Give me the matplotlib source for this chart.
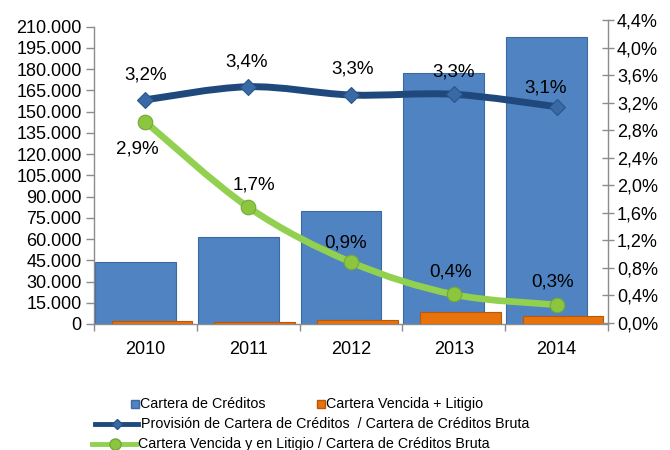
import numpy as np
import matplotlib
matplotlib.use("Agg")
import matplotlib.pyplot as plt
from matplotlib.path import Path
from matplotlib.patches import PathPatch
from matplotlib.lines import Line2D
from matplotlib.ticker import FixedLocator, FuncFormatter

plt.rcParams['font.family'] = ['Liberation Sans', 'DejaVu Sans']

# ---------------- data ----------------
years = ["2010", "2011", "2012", "2013", "2014"]
cartera_creditos = [44000, 61500, 80000, 177000, 203000]
cartera_vencida = [1800, 1500, 3000, 8400, 6000]
provision_ratio = [3.24, 3.43, 3.31, 3.32, 3.14]        # %
vencida_ratio = [2.92, 1.68, 0.88, 0.41, 0.26]          # %
left_ticks = list(range(0, 210001, 15000))
right_ticks = [0.0, 0.4, 0.8, 1.2, 1.6, 2.0, 2.4, 2.8, 3.2, 3.6, 4.0, 4.4]
legend_labels = ["Cartera de Créditos", "Cartera Vencida + Litigio",
                 "Provisión de Cartera de Créditos  / Cartera de Créditos Bruta",
                 "Cartera Vencida y en Litigio / Cartera de Créditos Bruta"]

# ---------------- style ----------------
W, H = 670, 450
C_BLUE = '#5083C2'
C_BLUE_E = '#3B6AA3'
C_ORANGE = '#E8720C'
C_ORANGE_E = '#B85808'
C_PROV = '#1F497D'
C_PROV_M = '#3A6AA6'
C_GREEN = '#92D050'
C_GREEN_M = '#8CC63F'
C_AX = '#8C8C8C'
FS_TICK = 13
FS_LBL = 13.5
FS_LEG = 10.3


def px(x, y):
    return x / W, 1 - y / H


fig = plt.figure(figsize=(W / 100, H / 100), dpi=100)
x0, x1, ytop, ybot = 94, 608, 20, 324
ax = fig.add_axes([x0 / W, 1 - ybot / H, (x1 - x0) / W, (ybot - ytop) / H])
ax2 = ax.twinx()

x = np.arange(len(years))
bw = 0.785
ax.bar(x - 0.097, cartera_creditos, width=bw, color=C_BLUE, edgecolor=C_BLUE_E,
       linewidth=0.8, zorder=2)
ax.bar(x + 0.063, cartera_vencida, width=bw, color=C_ORANGE, edgecolor=C_ORANGE_E,
       linewidth=0.8, zorder=3)

ax.set_xlim(-0.5, len(years) - 0.5)
ax.set_ylim(0, 214730)
ax2.set_ylim(-0.0189, 4.4)

# x axis
ax.set_xticks(x)
ax.set_xticklabels(years, fontsize=FS_TICK)
ax.xaxis.set_minor_locator(FixedLocator(np.arange(-0.5, len(years), 1.0)))
ax.tick_params(axis='x', which='major', length=0, pad=12)
ax.tick_params(axis='x', which='minor', length=5, color=C_AX, width=1, direction='out')

# left y axis
ax.set_yticks(left_ticks)
ax.yaxis.set_major_formatter(FuncFormatter(lambda v, p: f"{int(v):,}".replace(",", ".")))
ax.tick_params(axis='y', which='major', length=6, color=C_AX, width=1,
               direction='out', labelsize=FS_TICK, pad=3)

# right y axis
ax2.set_yticks(right_ticks)
ax2.yaxis.set_major_formatter(FuncFormatter(lambda v, p: f"{v:.1f}%".replace(".", ",")))
ax2.tick_params(axis='y', which='major', length=9, color=C_AX, width=1,
                direction='inout', labelsize=FS_TICK, pad=2)

for a in (ax, ax2):
    a.spines['top'].set_visible(False)
    for s in ('left', 'right', 'bottom'):
        a.spines[s].set_color(C_AX)
        a.spines[s].set_linewidth(1)
ax.spines['right'].set_visible(False)
ax2.spines['left'].set_visible(False)
ax2.spines['bottom'].set_visible(False)
ax.spines['left'].set_bounds(0, 210000)
ax2.spines['right'].set_bounds(0, 4.4)


def smooth_path(xs, ys):
    pts = np.column_stack([xs, ys]).astype(float)
    P = np.vstack([pts[0], pts, pts[-1]])
    verts = [pts[0]]
    codes = [Path.MOVETO]
    for i in range(1, len(P) - 2):
        p0, p1, p2, p3 = P[i - 1], P[i], P[i + 1], P[i + 2]
        c1 = p1 + (p2 - p0) / 6.0
        c2 = p2 - (p3 - p1) / 6.0
        verts += [c1, c2, p2]
        codes += [Path.CURVE4] * 3
    return Path(verts, codes)


ax2.add_patch(PathPatch(smooth_path(x, provision_ratio), fill=False,
                        edgecolor=C_PROV, linewidth=5, capstyle='butt', zorder=4))
ax2.plot(x, provision_ratio, linestyle='none', marker='D', markersize=8,
         markerfacecolor=C_PROV_M, markeredgecolor='#2A5588', markeredgewidth=0.8, zorder=5)
ax2.add_patch(PathPatch(smooth_path(x, vencida_ratio), fill=False,
                        edgecolor=C_GREEN, linewidth=4.8, capstyle='butt', zorder=4))
ax2.plot(x, vencida_ratio, linestyle='none', marker='o', markersize=10.5,
         markerfacecolor=C_GREEN_M, markeredgecolor='#74A83A', markeredgewidth=0.8, zorder=5)

prov_off = [(0, 25), (-2, 24.5), (2, 26), (0, 22.5), (-11, 18.5)]
venc_off = [(-8, -27), (6, 22), (-5, 19), (-3, 22), (-4, 23)]
for i, v in enumerate(provision_ratio):
    ax2.annotate(f"{v:.1f}%".replace(".", ","), (x[i], v), xytext=prov_off[i],
                 textcoords='offset pixels', ha='center', va='center',
                 fontsize=FS_LBL, zorder=6)
for i, v in enumerate(vencida_ratio):
    ax2.annotate(f"{v:.1f}%".replace(".", ","), (x[i], v), xytext=venc_off[i],
                 textcoords='offset pixels', ha='center', va='center',
                 fontsize=FS_LBL, zorder=6)

# ---------------- legend ----------------
def leg_marker(xp, yp, **kw):
    fx, fy = px(xp, yp)
    fig.add_artist(Line2D([fx], [fy], transform=fig.transFigure, linestyle='none', **kw))


def leg_line(xa, xb, yp, **kw):
    fa, fy = px(xa, yp)
    fb, _ = px(xb, yp)
    fig.add_artist(Line2D([fa, fb], [fy, fy], transform=fig.transFigure, **kw))


leg_marker(135, 404, marker='s', markersize=5.5, markerfacecolor=C_BLUE, markeredgecolor=C_BLUE_E)
fig.text(*px(140, 404), legend_labels[0], fontsize=FS_LEG, va='center', ha='left')
leg_marker(321, 404, marker='s', markersize=5.5, markerfacecolor=C_ORANGE, markeredgecolor=C_ORANGE_E)
fig.text(*px(326, 404), legend_labels[1], fontsize=FS_LEG, va='center', ha='left')

leg_line(95, 138, 424, color=C_PROV, linewidth=3.5)
leg_marker(117, 424, marker='D', markersize=5.5, markerfacecolor=C_PROV_M, markeredgecolor='#2A5588')
fig.text(*px(141, 424), legend_labels[2], fontsize=FS_LEG, va='center', ha='left')

leg_line(92, 136, 444, color=C_GREEN, linewidth=3.5)
leg_marker(115, 444, marker='o', markersize=8, markerfacecolor=C_GREEN_M, markeredgecolor='#74A83A')
fig.text(*px(138, 444), legend_labels[3], fontsize=FS_LEG, va='center', ha='left')

fig.savefig("out.png", dpi=100)
